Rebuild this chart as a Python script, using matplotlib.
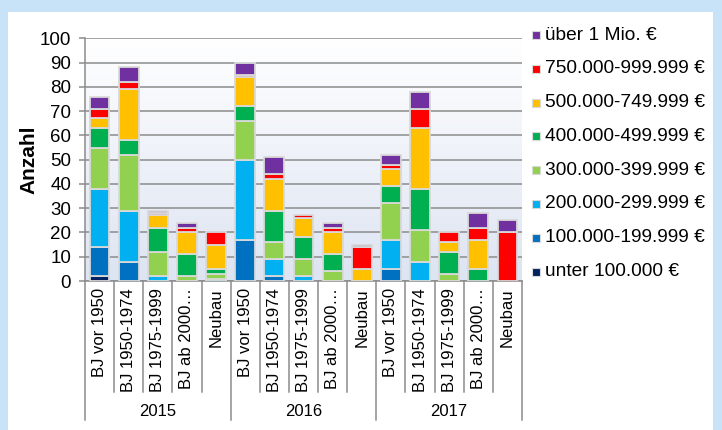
import numpy as np
import matplotlib
matplotlib.use("Agg")
import matplotlib.pyplot as plt
from matplotlib.patches import Rectangle
from matplotlib.colors import LinearSegmentedColormap
from matplotlib.transforms import blended_transform_factory

plt.rcParams['font.family'] = ['Liberation Sans', 'DejaVu Sans']

# ---- data -------------------------------------------------------------
years = ["2015", "2016", "2017"]
ages = ["BJ vor 1950", "BJ 1950-1974", "BJ 1975-1999", "BJ ab 2000…", "Neubau"]

price_classes = ["unter 100.000 €", "100.000-199.999 €", "200.000-299.999 €",
                 "300.000-399.999 €", "400.000-499.999 €", "500.000-749.999 €",
                 "750.000-999.999 €", "über 1 Mio. €"]

# one value per bar: 2015 (5 ages), 2016 (5 ages), 2017 (5 ages)
unter_100k = [2, 0, 0, 0, 0,    0, 0, 0, 0, 0,    0, 0, 0, 0, 0]
k100_199   = [12, 8, 0, 0, 0,   17, 2, 0, 0, 0,   5, 0, 0, 0, 0]
k200_299   = [24, 21, 2, 0, 1,  33, 7, 2, 0, 0,   12, 8, 0, 0, 0]
k300_399   = [17, 23, 10, 2, 2, 16, 7, 7, 4, 0,   15, 13, 3, 0, 0]
k400_499   = [8, 6, 10, 9, 2,   6, 13, 9, 7, 0,   7, 17, 9, 5, 0]
k500_749   = [4, 21, 5, 9, 10,  12, 13, 8, 9, 5,  7, 25, 4, 12, 0]
k750_999   = [4, 3, 1, 2, 5,    1, 2, 1, 2, 9,    2, 8, 4, 5, 20]
ueber_1mio = [5, 6, 1, 2, 0,    5, 7, 0, 2, 1,    4, 7, 0, 6, 5]

series = [unter_100k, k100_199, k200_299, k300_399,
          k400_499, k500_749, k750_999, ueber_1mio]
colors = ["#002060", "#0070c0", "#00b0f0", "#92d050",
          "#00b050", "#ffc000", "#ff0000", "#7030a0"]

# ---- figure -----------------------------------------------------------
W, H = 722, 430
fig = plt.figure(figsize=(W / 100, H / 100), dpi=100, facecolor="#c8e2f8")

def fx(px):
    return px / W

def fy(py):
    return 1 - py / H

# white panel
fig.add_artist(Rectangle((fx(8), 0), fx(713) - fx(8), fy(12), transform=fig.transFigure,
                         facecolor="white", edgecolor="none", zorder=0))

ax_l, ax_r, ax_t, ax_b = 85, 522, 38.3, 281
ax = fig.add_axes([fx(ax_l), fy(ax_b), fx(ax_r) - fx(ax_l), fy(ax_t) - fy(ax_b)])
ax.set_xlim(-0.5, 14.5)
ax.set_ylim(0, 100)
ax.patch.set_alpha(0)

# gradient plot background
grad_cmap = LinearSegmentedColormap.from_list("bg", ["#dde4f2", "#ffffff"])
ax.imshow(np.linspace(0, 1, 256).reshape(-1, 1), cmap=grad_cmap, origin="lower",
          extent=(-0.5, 14.5, 0, 100), aspect="auto", zorder=0)

# grid
ax.set_yticks(np.arange(0, 101, 10))
ax.yaxis.grid(True, color="#8c8c8c", linewidth=1.1)
ax.set_axisbelow(True)
for s in ["top", "right"]:
    ax.spines[s].set_visible(False)
ax.spines["left"].set_color("#8c8c8c")
ax.spines["left"].set_linewidth(1.1)
ax.spines["bottom"].set_color("#8c8c8c")
ax.spines["bottom"].set_linewidth(1.1)
ax.tick_params(axis="y", length=4, width=1.1, color="#8c8c8c", labelsize=13.5, pad=6)
ax.set_ylabel("Anzahl", fontsize=15, fontweight="bold", labelpad=1)

# stacked bars
x = np.arange(15)
bottom = np.zeros(15)
for vals, col in zip(series, colors):
    vals = np.array(vals, dtype=float)
    mask = vals > 0
    ax.bar(x[mask], vals[mask], bottom=bottom[mask], width=0.68, color=col,
           edgecolor="#d9d9d9", linewidth=1.3, zorder=3)
    bottom += vals

# category labels
cat_labels = ages * len(years)
ax.set_xticks(x)
ax.set_xticklabels(cat_labels, rotation=90, fontsize=12, va="top")
ax.tick_params(axis="x", length=0, pad=5)

# multi-level axis separators and year labels
trans = blended_transform_factory(ax.transData, fig.transFigure)
for i in range(16):
    xb = i - 0.5
    y_end = fy(420) if i % 5 == 0 else fy(392)
    ax.plot([xb, xb], [fy(ax_b), y_end], transform=trans, color="#8c8c8c",
            linewidth=1.1, clip_on=False, zorder=1)
for g, yr in enumerate(years):
    ax.text(g * 5 + 2, fy(411), yr, transform=trans, ha="center", va="center",
            fontsize=12)

# legend
leg_y0, leg_dy = 35, 33.8
for i, (lab, col) in enumerate(zip(price_classes[::-1], colors[::-1])):
    yc = leg_y0 + i * leg_dy
    fig.add_artist(Rectangle((fx(532), fy(yc + 4)), fx(8), 8 / H,
                             transform=fig.transFigure, facecolor=col,
                             edgecolor="#d9d9d9", linewidth=0.8))
    fig.text(fx(545), fy(yc), lab, ha="left", va="center", fontsize=13.8)

fig.savefig("out.png", dpi=100, facecolor=fig.get_facecolor())
